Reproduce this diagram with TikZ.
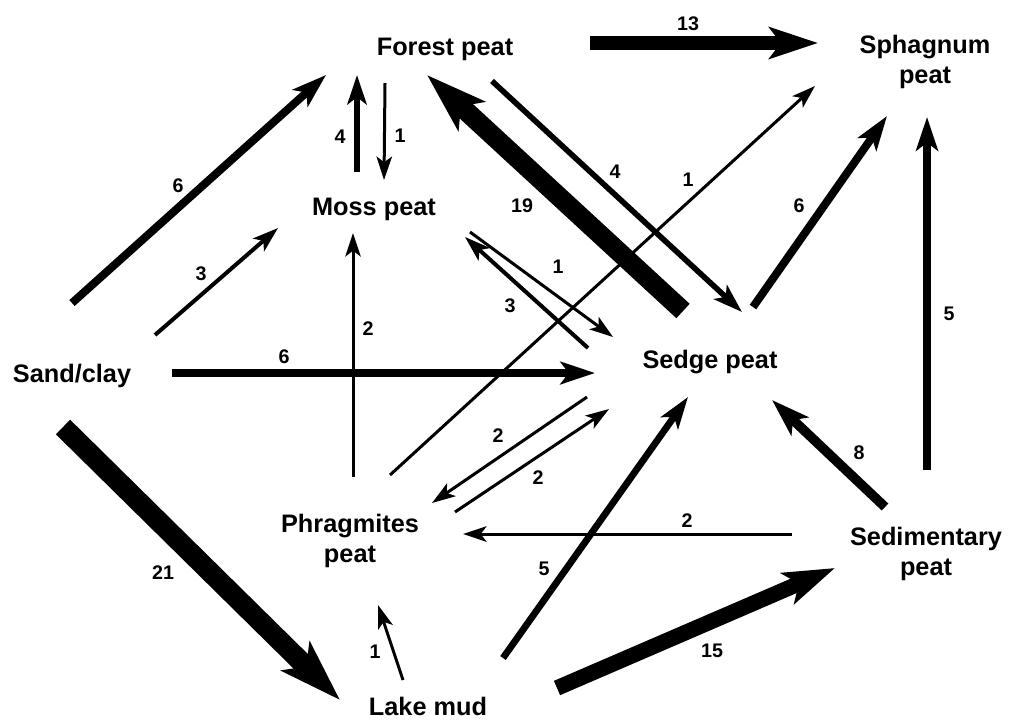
\documentclass[tikz,border=0pt]{standalone}
\usepackage{fontspec}
\setmainfont{Liberation Sans}
\usetikzlibrary{arrows.meta}
\tikzset{
  peat/.style={align=center, inner sep=0pt, font=\fontsize{18}{21.3}\selectfont\bfseries},
  num/.style={inner sep=0pt, font=\fontsize{14}{16}\selectfont\bfseries},
  flow/.style={line width=#1, -{Stealth[length=12pt 2.2, width=8pt 1.4, inset=3pt 0.5]}},
}

\begin{document}
\begin{tikzpicture}[x=0.25mm, y=-0.25mm]
\useasboundingbox (0,0) rectangle (1009,719);
% deposits
\node[peat] (forest) at (445,49) {Forest peat};
\node[peat] (sphag) at (925,62) {Sphagnum\\peat};
\node[peat] (moss) at (374,209) {Moss peat};
\node[peat] (sand) at (72,376) {Sand/clay};
\node[peat] (sedge) at (710,362) {Sedge peat};
\node[peat] (phrag) at (350,541) {Phragmites\\peat};
\node[peat] (sedim) at (926,554) {Sedimentary\\peat};
\node[peat] (lake) at (428,706) {Lake mud};
% transitions
\draw[flow=2mm] ([shift={(0,-73)}]sand.center) -- ([shift={(-119,26)}]forest.center);
\draw[flow=1mm] ([shift={(83,-41)}]sand.center) -- ([shift={(-96,19)}]moss.center);
\draw[flow=1.4mm] ([shift={(-17,-37)}]moss.center) -- ([shift={(-88,26)}]forest.center);
\draw[flow=0.75mm] ([shift={(-60,34)}]forest.center) -- ([shift={(10,-29)}]moss.center);
\draw[flow=0.75mm] ([shift={(3,-64)}]phrag.center) -- ([shift={(-21,24)}]moss.center);
\draw[flow=2mm] ([shift={(100,-3)}]sand.center) -- ([shift={(-115,11)}]sedge.center);
\draw[flow=3.6mm] ([shift={(145,-6)}]forest.center) -- ([shift={(-107,-19)}]sphag.center);
\draw[flow=4.9mm] ([shift={(-27,-51)}]sedge.center) -- ([shift={(-18,26)}]forest.center);
\draw[flow=1.4mm] ([shift={(47,32)}]forest.center) -- ([shift={(32,-50)}]sedge.center);
\draw[flow=0.75mm] ([shift={(40,-66)}]phrag.center) -- ([shift={(-110,24)}]sphag.center);
\draw[flow=2mm] ([shift={(43,-55)}]sedge.center) -- ([shift={(-38,54)}]sphag.center);
\draw[flow=1.9mm] ([shift={(1,-84)}]sedim.center) -- ([shift={(2,55)}]sphag.center);
\draw[flow=0.75mm] ([shift={(96,23)}]moss.center) -- ([shift={(-97,-25)}]sedge.center);
\draw[flow=1mm] ([shift={(-122,-14)}]sedge.center) -- ([shift={(91,28)}]moss.center);
\draw[flow=0.75mm] ([shift={(-123,35)}]sedge.center) -- ([shift={(82,-38)}]phrag.center);
\draw[flow=0.75mm] ([shift={(105,-29)}]phrag.center) -- ([shift={(-101,47)}]sedge.center);
\draw[flow=0.75mm] ([shift={(-134,-20)}]sedim.center) -- ([shift={(113,-7)}]phrag.center);
\draw[flow=2.4mm] ([shift={(-41,-47)}]sedim.center) -- ([shift={(62,38)}]sedge.center);
\draw[flow=1.7mm] ([shift={(75,-48)}]lake.center) -- ([shift={(-22,35)}]sedge.center);
\draw[flow=3.9mm] ([shift={(129,-18)}]lake.center) -- ([shift={(-91,14)}]sedim.center);
\draw[flow=5.1mm] ([shift={(-9,51)}]sand.center) -- ([shift={(-88,-6)}]lake.center);
\draw[flow=0.75mm] ([shift={(-25,-26)}]lake.center) -- ([shift={(28,64)}]phrag.center);
% amounts
\node[num] (v1) at (178,186) {6};
\node[num] (v2) at (201,274) {3};
\node[num] (v3) at (340,137) {4};
\node[num] (v4) at (400,136) {1};
\node[num] (v5) at (368,329) {2};
\node[num] (v6) at (284,357) {6};
\node[num] (v7) at (688,24) {13};
\node[num] (v8) at (522,206) {19};
\node[num] (v9) at (615,172) {4};
\node[num] (v10) at (688,180) {1};
\node[num] (v11) at (799,206) {6};
\node[num] (v12) at (949,314) {5};
\node[num] (v13) at (558,267) {1};
\node[num] (v14) at (510,306) {3};
\node[num] (v15) at (498,436) {2};
\node[num] (v16) at (538,478) {2};
\node[num] (v17) at (687,521) {2};
\node[num] (v18) at (859,453) {8};
\node[num] (v19) at (544,569) {5};
\node[num] (v20) at (712,651) {15};
\node[num] (v21) at (163,573) {21};
\node[num] (v22) at (375,652) {1};
\end{tikzpicture}
\end{document}
